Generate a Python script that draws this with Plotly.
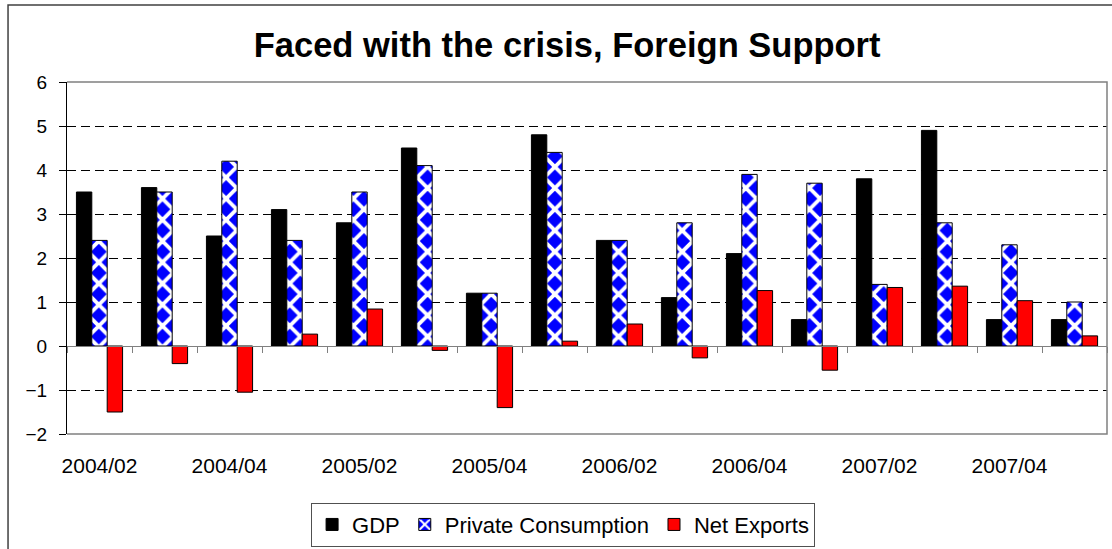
import plotly.graph_objects as go

categories = ["2004/02", "2004/03", "2004/04", "2005/01", "2005/02", "2005/03", "2005/04", "2006/01",
              "2006/02", "2006/03", "2006/04", "2007/01", "2007/02", "2007/03", "2007/04", "2008/01"]
gdp = [3.5, 3.6, 2.5, 3.1, 2.8, 4.5, 1.2, 4.8, 2.4, 1.1, 2.1, 0.6, 3.8, 4.9, 0.6, 0.6]
private_consumption = [2.4, 3.5, 4.2, 2.4, 3.5, 4.1, 1.2, 4.4, 2.4, 2.8, 3.9, 3.7, 1.4, 2.8, 2.3, 1.0]
net_exports = [-1.5, -0.4, -1.05, 0.27, 0.84, -0.1, -1.4, 0.11, 0.5, -0.27, 1.26, -0.55, 1.33, 1.36, 1.03, 0.23]
tick_labels = categories[::2]

FONT = "Liberation Sans, Arial, sans-serif"

fig = go.Figure()
fig.add_trace(go.Bar(name="GDP", x=categories, y=gdp,
                     marker=dict(color="#000000", line=dict(color="#000000", width=1))))
fig.add_trace(go.Bar(name="Private Consumption", x=categories, y=private_consumption,
                     marker=dict(color="#0000FF", line=dict(color="#000000", width=1),
                                 pattern=dict(shape="x", fgcolor="#FFFFFF", bgcolor="#0000FF",
                                              size=15, solidity=0.45, fillmode="replace"))))
fig.add_trace(go.Bar(name="Net Exports", x=categories, y=net_exports,
                     marker=dict(color="#FF0000", line=dict(color="#000000", width=1))))
# helper trace so the zero-line axis (ticks at category boundaries) is drawn
fig.add_trace(go.Scatter(x=categories, y=[0] * len(categories), mode="none", xaxis="x2",
                         showlegend=False, hoverinfo="skip"))

fig.update_layout(
    width=1112, height=549,
    margin=dict(l=67, r=5, t=82, b=115, autoexpand=False),
    paper_bgcolor="white", plot_bgcolor="white",
    barmode="group", bargap=0.29, bargroupgap=0,
    font=dict(family=FONT, color="#000000"),
    title=dict(text="<b>Faced with the crisis, Foreign Support</b>", x=0.51, xref="container",
               xanchor="center", y=0.918, yref="container", yanchor="middle",
               font=dict(size=34.5, family=FONT, color="#000000")),
    xaxis=dict(type="category", range=[-0.5, 15.5], tickmode="array", tickvals=tick_labels,
               ticktext=tick_labels, ticks="", showline=False, showgrid=False, zeroline=False,
               automargin=False,
               tickfont=dict(size=21, family=FONT, color="#000000"), ticklabelstandoff=17),
    xaxis2=dict(type="category", range=[-0.5, 15.5], overlaying="x", anchor="free", position=0.25,
                side="bottom", showline=True, linecolor="#808080", linewidth=1,
                ticks="outside", tickson="boundaries", ticklen=6, tickcolor="#808080",
                showticklabels=False, showgrid=False, zeroline=False, automargin=False,
                categoryorder="array", categoryarray=categories),
    yaxis=dict(range=[-2, 6], dtick=1, tick0=0, showline=True, linecolor="#000000", linewidth=1,
               ticks="outside", ticklen=7, tickcolor="#000000", automargin=False,
               showgrid=True, gridcolor="#000000", gridwidth=1, griddash="9px,5px",
               zeroline=True, zerolinecolor="#808080", zerolinewidth=1,
               tickfont=dict(size=19, family=FONT, color="#000000"), ticklabelstandoff=8),
    legend=dict(orientation="h", x=0.477, xanchor="center", y=-0.195, yanchor="top",
                bordercolor="#505050", borderwidth=1, bgcolor="white",
                font=dict(size=22, family=FONT, color="#000000"),
                traceorder="normal", itemwidth=30, tracegroupgap=0),
    shapes=[
        dict(type="path", xref="paper", yref="paper", path="M 0,1 L 1,1 L 1,0 L 0,0",
             line=dict(color="#808080", width=1.5), layer="above"),
        dict(type="rect", xref="paper", yref="paper", x0=-0.0567, x1=1.05, y0=-0.4, y1=1.219,
             line=dict(color="#404040", width=1.5), fillcolor="rgba(0,0,0,0)", layer="above"),
    ],
)

fig.write_html("out.html")
